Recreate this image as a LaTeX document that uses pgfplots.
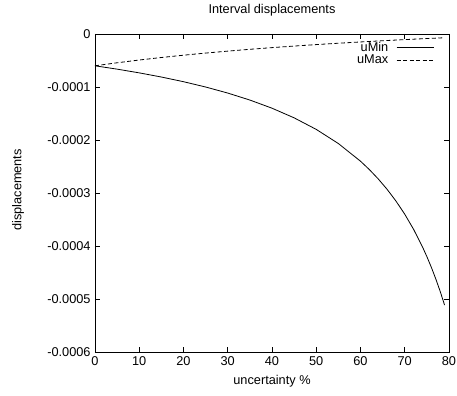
\documentclass[border=0pt]{standalone}
\usepackage{pgfplots}
\pgfplotsset{compat=1.18}
\usepackage{fontspec}
\setmainfont{Liberation Sans}
\begin{document}
\fontsize{12.8}{14}\selectfont
\begin{tikzpicture}
\path[use as bounding box] (-95bp,-44bp) rectangle (362bp,352bp);
\begin{axis}[
  at={(0,0)}, anchor=south west,
  scale only axis, width=354bp, height=318bp,
  xmin=0, xmax=80, ymin=-0.0006, ymax=0,
  xtick={0,10,...,80},
  ytick={-0.0006,-0.0005,-0.0004,-0.0003,-0.0002,-0.0001,0},
  yticklabels={-0.0006,-0.0005,-0.0004,-0.0003,-0.0002,-0.0001,0},
  scaled y ticks=false,
  /pgf/number format/assume math mode=true,
  tick align=inside, major tick length=5bp,
  tick style={black, line width=0.6bp},
  axis line style={line width=0.8bp},
  ticklabel style={font=\fontsize{12.8}{14}\selectfont},
  title={Interval displacements},
  title style={at={(axis description cs:0.5,1)}, anchor=base, yshift=14.7bp,
    font=\fontsize{12.8}{14}\selectfont},
  xlabel={uncertainty \%},
  xlabel style={at={(axis description cs:0.5,0)}, anchor=base, yshift=-32bp},
  ylabel={displacements},
  ylabel style={at={(axis description cs:-0.2175,0.51)}, anchor=center},
  label style={font=\fontsize{12.8}{14}\selectfont},
  legend plot pos=right,
  legend cell align=right,
  legend style={draw=none, fill=none, at={(0.967,0.985)}, anchor=north east,
    font=\fontsize{12.8}{14}\selectfont, row sep=-0.5bp, column sep=7bp,
    nodes={inner sep=1bp}},
  legend image code/.code={\draw[#1] (0bp,0bp) -- (37bp,0bp);},
]
\addplot[black, line width=0.8bp] coordinates {
(0,-6.0e-5) (5,-6.6316e-5) (10,-7.3333e-5) (15,-8.1176e-5) (20,-9.0e-5)
(25,-1.0e-4) (30,-1.11429e-4) (35,-1.24615e-4) (40,-1.4e-4) (45,-1.58182e-4)
(50,-1.8e-4) (55,-2.06667e-4) (60,-2.4e-4) (62,-2.55789e-4) (64,-2.73333e-4)
(66,-2.92941e-4) (68,-3.15e-4) (70,-3.4e-4) (72,-3.68571e-4) (74,-4.01538e-4)
(75,-4.2e-4) (76,-4.4e-4) (77,-4.61739e-4) (78,-4.85455e-4) (79,-5.11429e-4)
};
\addlegendentry{uMin}
\addplot[black, line width=0.8bp, dash pattern=on 4bp off 2.5bp] coordinates {
(0,-6.0e-5) (5,-5.4286e-5) (10,-4.9091e-5) (15,-4.4348e-5) (20,-4.0e-5)
(25,-3.6e-5) (30,-3.2308e-5) (35,-2.8889e-5) (40,-2.5714e-5) (45,-2.2759e-5)
(50,-2.0e-5) (55,-1.7419e-5) (60,-1.5e-5) (62,-1.4074e-5) (64,-1.3171e-5)
(66,-1.2289e-5) (68,-1.1429e-5) (70,-1.0588e-5) (72,-9.767e-6) (74,-8.966e-6)
(75,-8.571e-6) (76,-8.182e-6) (77,-7.797e-6) (78,-7.416e-6) (79,-7.039e-6)
};
\addlegendentry{uMax}
\end{axis}
\end{tikzpicture}
\end{document}
